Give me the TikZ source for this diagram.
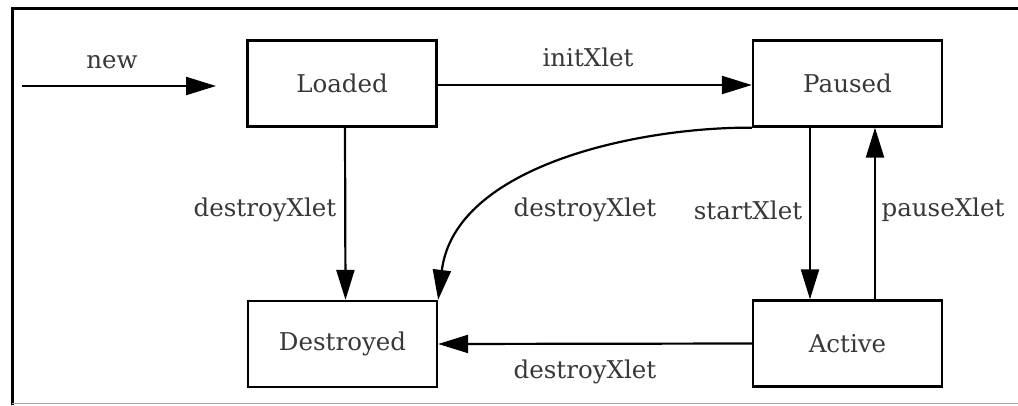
\documentclass[tikz,border=0pt]{standalone}
\usepackage{fontspec}
\setmainfont{DejaVu Serif}
\usetikzlibrary{arrows.meta}
\begin{document}
\begin{tikzpicture}[x=1pt,y=-1pt,
  state/.style={draw=black,line width=2.3pt,minimum width=189pt,minimum height=86pt,inner sep=0pt,font=\fontsize{24.5}{28}\selectfont,text=black!78},
  lbl/.style={font=\fontsize{24.5}{28}\selectfont,text=black!78,inner sep=0pt},
  conn/.style={line width=2.2pt,-{Triangle[length=30pt,width=18pt]}}]
\useasboundingbox (0,0) rectangle (1018,405);
\fill[white] (0,0) rectangle (1018,405);
% frame
\draw[line width=3pt] (12,405) -- (12,8) -- (1018,8);
\draw[line width=0.8pt,black!35] (12,403.5) -- (1018,403.5);
% states
\node[state] (L) at (342,83.5) {Loaded};
\node[state] (P) at (847.5,83.5) {Paused};
\node[state] (D) at (342.5,344) {Destroyed};
\node[state] (A) at (847.5,343.5) {Active};
% initial arrow
\coordinate (s0) at (22,86);
\coordinate (s1) at (216,86);
\draw[conn] (s0) -- (s1);
\node[lbl] (tnew) at (112,62) {new};
% transitions
\draw[conn] (L.east |- 0,85) -- (P.west |- 0,85);
\node[lbl] (tinit) at (588,57) {initXlet};
\draw[conn] ([xshift=3pt]L.south) -- ([xshift=3pt]D.north);
\node[lbl] (td1) at (265,210) {destroyXlet};
\draw[conn] ([xshift=-37.5pt]P.south) -- ([xshift=-37.5pt]A.north);
\node[lbl] (tstart) at (748,210) {startXlet};
\draw[conn] ([xshift=27.5pt]A.north) -- ([xshift=27.5pt]P.south);
\node[lbl] (tpause) at (943,210) {pauseXlet};
\draw[conn] (A.west) -- (D.east);
\node[lbl] (td3) at (585,372) {destroyXlet};
\draw[conn] (P.south west) .. controls (640,127) and (455,165) .. (D.north east);
\node[lbl] (td2) at (585,210) {destroyXlet};
\end{tikzpicture}
\end{document}
